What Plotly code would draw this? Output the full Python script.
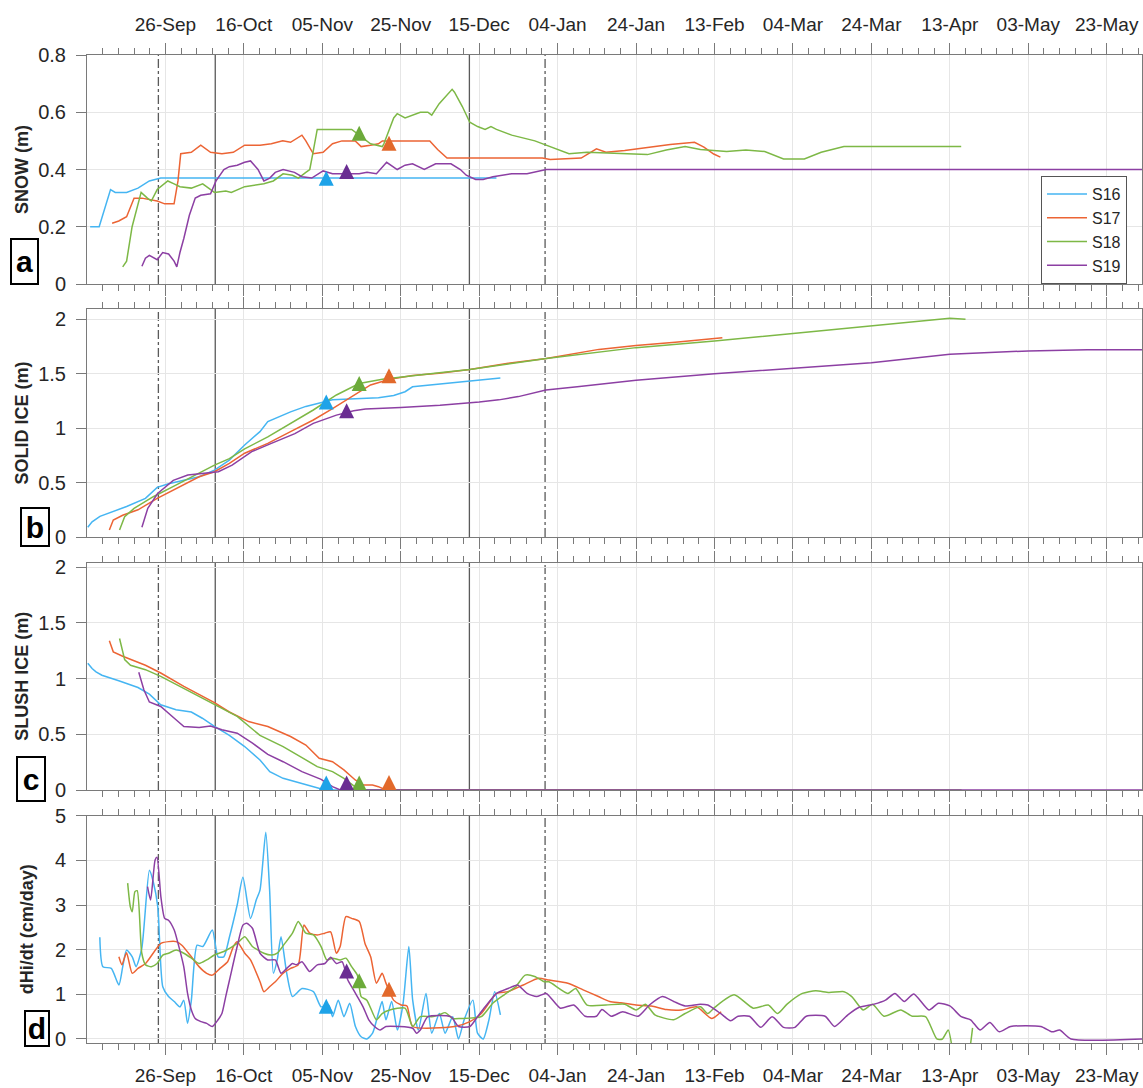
import pandas as pd
import plotly.graph_objects as go

# Day numbers count from the start of the season (1 Sep 2019 = day 0)
SEASON_START = pd.Timestamp("2019-09-01")

stations = ["S16", "S17", "S18", "S19"]
line_colors = ["#45B5F2", "#EC6434", "#7DB846", "#8C3FA3"]
marker_colors = ["#1EA3E8", "#E2692B", "#6CAA3A", "#6A2D92"]

# ---- snow depth (m) ----
snow_s16_day = [5.8, 8.1, 11.0, 12.2, 15.1, 18.0, 20.9, 23.8, 109.4]
snow_s16 = [0.20, 0.20, 0.33, 0.32, 0.32, 0.335, 0.36, 0.37, 0.37]
snow_s17_day = [11.4, 13.1, 15.1, 17.0, 19.0, 20.9, 22.9, 24.8, 27.2, 28.2, 28.9, 31.6, 34.0, 36.5, 39.4, 42.3,
                45.2, 49.1, 52.0, 54.9, 56.9, 59.8, 60.8, 62.7, 65.2, 67.6, 70.0, 73.4, 74.9, 77.3, 79.3, 80.3,
                92.4, 94.4, 96.8, 106.5, 121.1, 123.1, 131.0, 134.9, 137.3, 142.1, 148.9, 153.7, 159.9, 162.3,
                164.8, 166.5]
snow_s17 = [0.212, 0.22, 0.235, 0.30, 0.30, 0.295, 0.29, 0.28, 0.28, 0.36, 0.455, 0.46, 0.485, 0.46, 0.455, 0.46,
            0.485, 0.485, 0.49, 0.50, 0.495, 0.52, 0.50, 0.455, 0.46, 0.49, 0.50, 0.50, 0.48, 0.485, 0.49, 0.50,
            0.50, 0.47, 0.44, 0.44, 0.44, 0.435, 0.44, 0.472, 0.46, 0.466, 0.478, 0.487, 0.495, 0.478,
            0.454, 0.443]
snow_s18_day = [14.1, 15.1, 16.5, 18.8, 20.4, 21.4, 22.9, 25.6, 27.2, 28.7, 31.6, 34.5, 36.0, 37.5, 40.4, 41.8,
                45.2, 50.1, 52.5, 55.0, 57.4, 58.9, 60.8, 61.8, 62.5, 63.7, 72.5, 74.4, 77.3, 80.3, 80.7, 83.2,
                84.1, 86.1, 88.0, 90.0, 91.9, 92.9, 94.8, 96.8, 98.1, 98.7, 100.7, 102.6, 104.6, 106.5, 108.0,
                109.4, 113.3, 119.2, 123.1, 127.9, 132.5, 137.3, 147.9, 152.7, 157.5, 161.4, 168.1, 173.0,
                177.8, 182.6, 187.9, 192.2, 198.0, 227.9]
snow_s18 = [0.06, 0.08, 0.20, 0.32, 0.30, 0.29, 0.33, 0.36, 0.35, 0.34, 0.335, 0.35, 0.335, 0.32, 0.325, 0.32,
            0.34, 0.35, 0.36, 0.385, 0.38, 0.37, 0.39, 0.40, 0.45, 0.54, 0.54, 0.52, 0.49, 0.48, 0.49, 0.58,
            0.595, 0.58, 0.59, 0.60, 0.60, 0.59, 0.63, 0.66, 0.68, 0.67, 0.62, 0.565, 0.55, 0.54, 0.55,
            0.54, 0.52, 0.50, 0.48, 0.455, 0.46, 0.458, 0.452, 0.468, 0.48, 0.47, 0.463, 0.468,
            0.463, 0.437, 0.437, 0.46, 0.48, 0.48]
snow_s19_day = [19.0, 19.9, 20.9, 22.4, 22.9, 24.3, 25.8, 27.2, 27.9, 28.7, 29.7, 31.1, 32.6, 34.0, 36.5, 37.9,
                39.9, 41.3, 43.3, 45.2, 46.7, 48.6, 50.1, 51.6, 53.0, 55.0, 57.9, 59.8, 62.3, 65.2, 67.6, 74.4,
                76.4, 78.8, 81.4, 84.1, 86.1, 88.0, 91.0, 93.9, 97.8, 100.2, 101.7, 104.1, 106.0, 108.5, 113.3,
                117.2, 122.1, 274.0]
snow_s19 = [0.062, 0.09, 0.10, 0.09, 0.085, 0.11, 0.105, 0.08, 0.06, 0.11, 0.16, 0.24, 0.30, 0.31, 0.315, 0.36,
            0.40, 0.41, 0.415, 0.425, 0.43, 0.40, 0.36, 0.37, 0.39, 0.40, 0.39, 0.375, 0.37, 0.395, 0.385, 0.385,
            0.39, 0.385, 0.425, 0.40, 0.415, 0.42, 0.40, 0.42, 0.42, 0.40, 0.38, 0.365, 0.365, 0.375, 0.385,
            0.385, 0.40, 0.40]

# ---- solid ice thickness (m) ----
ice_s16_day = [5.2, 6.3, 8.3, 11.2, 15.1, 19.9, 22.9, 25.8, 29.7, 33.6, 37.5, 41.3, 45.2, 49.1, 51.1, 54.0,
               56.9, 60.8, 64.7, 67.6, 73.4, 79.3, 83.2, 86.1, 88.0, 94.8, 102.6, 105.5, 110.4]
ice_s16 = [0.09, 0.14, 0.19, 0.23, 0.28, 0.355, 0.456, 0.49, 0.52, 0.554, 0.615, 0.707, 0.845, 0.968, 1.06, 1.106,
           1.15, 1.20, 1.234, 1.26, 1.27, 1.28, 1.30, 1.335, 1.38, 1.405, 1.427, 1.44, 1.46]
ice_s17_day = [10.7, 11.7, 14.1, 18.0, 22.9, 27.7, 33.6, 37.5, 41.3, 45.2, 51.1, 56.9, 62.7, 67.6, 73.4, 77.3,
               82.2, 88.0, 94.8, 102.6, 112.4, 122.1, 135.5, 145.0, 155.0, 167.0]
ice_s17 = [0.064, 0.156, 0.20, 0.25, 0.355, 0.447, 0.554, 0.60, 0.677, 0.77, 0.86, 0.968, 1.075, 1.18, 1.314,
           1.397, 1.45, 1.485, 1.504, 1.54, 1.596, 1.64, 1.724, 1.76, 1.79, 1.83]
ice_s18_day = [13.3, 14.6, 17.0, 21.9, 26.8, 33.6, 37.5, 41.3, 45.2, 51.1, 56.9, 62.7, 68.6, 74.4, 80.3, 88.0,
               94.8, 102.6, 112.4, 122.1, 145.0, 165.0, 185.0, 205.0, 218.0, 225.0, 229.0]
ice_s18 = [0.064, 0.187, 0.263, 0.37, 0.46, 0.59, 0.66, 0.72, 0.81, 0.92, 1.044, 1.167, 1.305, 1.41, 1.45, 1.485,
           1.51, 1.54, 1.59, 1.64, 1.74, 1.80, 1.87, 1.94, 1.99, 2.01, 2.0]
ice_s19_day = [19.0, 20.5, 23.0, 27.0, 30.7, 34.6, 38.5, 42.0, 47.0, 52.0, 58.0, 62.7, 68.6, 73.0, 76.0, 85.0,
               95.0, 105.0, 110.0, 115.0, 122.0, 130.0, 145.0, 165.0, 185.0, 205.0, 225.0, 245.0, 260.0, 274.0]
ice_s19 = [0.09, 0.263, 0.40, 0.52, 0.57, 0.585, 0.60, 0.66, 0.784, 0.86, 0.95, 1.044, 1.12, 1.16, 1.175, 1.19,
           1.21, 1.24, 1.26, 1.29, 1.35, 1.38, 1.44, 1.50, 1.55, 1.60, 1.68, 1.71, 1.72, 1.72]

# ---- slush ice thickness (m) ----
slush_s16_day = [5.2, 6.3, 7.3, 8.8, 13.1, 18.0, 20.9, 23.8, 27.7, 31.6, 34.4, 37.5, 41.3, 45.2, 49.1, 51.6,
                 55.0, 60.8, 64.7, 65.7, 110.4]
slush_s16 = [1.138, 1.09, 1.06, 1.03, 0.98, 0.92, 0.86, 0.765, 0.72, 0.70, 0.644, 0.57, 0.49, 0.39, 0.27, 0.165,
             0.105, 0.045, 0.006, 0.0, 0.0]
slush_s17_day = [10.7, 11.7, 14.1, 19.9, 23.8, 29.7, 37.5, 41.3, 46.2, 51.1, 56.9, 60.8, 64.2, 67.6, 70.5, 73.4,
                 75.4, 77.8, 79.3, 81.2, 166.5]
slush_s17 = [1.34, 1.24, 1.20, 1.12, 1.05, 0.93, 0.784, 0.70, 0.614, 0.57, 0.48, 0.404, 0.285, 0.254, 0.18, 0.09,
             0.045, 0.045, 0.03, 0.0, 0.0]
slush_s18_day = [13.3, 14.6, 16.1, 19.9, 23.8, 29.7, 37.5, 43.3, 49.1, 55.0, 60.8, 63.7, 67.6, 70.5, 73.9, 74.9,
                 228.0]
slush_s18 = [1.36, 1.17, 1.12, 1.08, 1.02, 0.91, 0.77, 0.66, 0.49, 0.39, 0.27, 0.21, 0.165, 0.105, 0.015, 0.0, 0.0]
slush_s19_day = [18.2, 19.5, 20.9, 23.8, 27.7, 29.7, 33.6, 36.5, 39.4, 43.3, 47.2, 51.1, 55.0, 59.8, 64.7, 67.6,
                 69.6, 274.0]
slush_s19 = [1.057, 0.90, 0.79, 0.75, 0.63, 0.57, 0.56, 0.575, 0.54, 0.51, 0.42, 0.32, 0.254, 0.165, 0.096, 0.03,
             0.0, 0.0]

# ---- ice growth rate dHi/dt (cm/day) ----
dh_s16_day = [8.27, 9.05, 11.19, 13.13, 14.11, 15.08, 16.54, 17.51, 18.97, 20.91, 21.89, 23.05, 24.32, 25.78,
              27.24, 28.70, 29.67, 30.64, 31.61, 33.07, 34.53, 36.96, 38.42, 39.88, 41.34, 43.29, 44.75, 46.69,
              48.15, 49.12, 50.58, 51.56, 52.53, 53.50, 54.47, 55.93, 57.39, 59.82, 62.74, 64.69, 66.63, 67.61,
              69.07, 70.53, 71.98, 73.44, 74.90, 76.36, 77.82, 79.28, 80.25, 81.23, 82.68, 84.14, 85.60, 87.06,
              88.04, 89.49, 91.44, 92.90, 94.84, 96.30, 98.25, 99.71, 101.17, 103.40, 104.57, 106.03, 107.49,
              108.95, 110.41]
dh_s16 = [2.28, 1.62, 1.58, 1.21, 1.62, 1.99, 1.84, 1.62, 2.03, 3.78, 3.52, 2.96, 1.17, 0.95, 0.84, 0.72, 0.87,
          0.35, 0.87, 2.10, 2.07, 2.44, 1.84, 1.84, 2.29, 3.00, 3.62, 2.70, 3.11, 3.34, 4.63, 3.34, 1.47, 1.77,
          2.29, 1.47, 0.95, 1.13, 1.06, 0.72, 0.76, 0.50, 0.87, 0.50, 0.80, 0.28, 0.05, 0.0, 0.13, 0.57, 0.84,
          0.43, 0.84, 0.20, 0.80, 2.07, 0.87, 0.20, 1.02, 0.13, 0.57, 0.13, 0.50, 0.0, 0.43, 0.87, 0.13, 0.0,
          0.43, 1.06, 0.54]
dh_s17_day = [13.13, 13.91, 15.08, 16.54, 18.00, 19.94, 23.83, 25.78, 27.72, 29.18, 31.61, 33.56, 35.51, 36.96,
              38.91, 40.86, 42.32, 43.29, 45.23, 46.69, 49.12, 50.10, 51.56, 53.02, 54.96, 56.91, 58.85, 60.31,
              61.77, 63.72, 65.66, 67.12, 68.58, 69.55, 71.01, 72.47, 74.42, 75.88, 77.33, 78.79, 80.25, 81.23,
              83.17, 85.12, 86.58, 88.04, 98.74, 102.63, 105.54, 109.44, 112.35, 116.25, 120.14, 122.8, 127.6,
              131.5, 135.4, 138.3, 141.1, 145.0, 148.9, 152.7, 156.6, 160.4, 164.3, 166.7]
dh_s17 = [1.84, 1.66, 1.93, 1.47, 1.58, 1.69, 2.14, 2.18, 2.18, 2.10, 1.84, 1.62, 1.47, 1.43, 1.58, 1.73, 2.07,
          2.18, 1.92, 1.77, 1.28, 1.06, 1.17, 1.28, 1.47, 1.58, 1.66, 2.55, 2.37, 2.33, 2.37, 2.40, 1.92, 2.07,
          2.74, 2.70, 2.63, 2.14, 1.84, 1.25, 1.47, 1.25, 0.87, 0.76, 0.74, 0.28, 0.28, 0.39, 0.57, 1.02, 1.06,
          1.21, 1.36, 1.32, 1.25, 1.10, 0.95, 0.84, 0.81, 0.76, 0.74, 0.66, 0.65, 0.72, 0.46, 0.61]
dh_s18_day = [15.37, 16.05, 16.54, 17.22, 17.80, 18.97, 19.94, 21.40, 22.86, 24.32, 25.78, 27.72, 29.67, 31.61,
              33.56, 35.51, 37.45, 39.88, 41.34, 43.29, 45.23, 47.18, 50.10, 52.04, 53.50, 55.45, 57.39, 58.85,
              59.82, 60.80, 62.74, 64.69, 66.15, 67.61, 69.55, 71.01, 72.47, 73.93, 74.90, 76.36, 78.79, 80.25,
              82.20, 86.09, 88.04, 89.98, 92.90, 94.84, 96.30, 98.25, 100.19, 105.54, 108.46, 111.38, 114.30,
              116.73, 119.16, 121.59, 122.8, 127.6, 129.6, 132.5, 137.3, 142.1, 145.0, 147.4, 149.8, 154.6,
              157.5, 161.4, 163.3, 165.2, 170.0, 174.9, 178.7, 181.1, 183.5, 187.4, 190.8, 194.2, 198.0, 200.0,
              202.9, 205.3, 208.2, 212.5, 215.4, 218.8, 221.7, 223.1, 224.6, 226.2, 227.5, 229.5, 230.8]
dh_s18 = [3.49, 2.96, 2.85, 3.30, 3.32, 1.92, 1.66, 1.62, 1.69, 1.88, 1.92, 1.99, 1.92, 1.81, 1.69, 1.77, 1.88,
          1.96, 2.03, 2.14, 2.29, 2.07, 1.92, 1.88, 1.92, 2.14, 2.37, 2.63, 2.51, 2.37, 2.33, 2.07, 1.77, 1.81,
          1.77, 1.81, 1.62, 1.43, 0.95, 0.87, 0.43, 0.57, 0.65, 0.69, 0.28, 0.50, 0.50, 0.54, 0.59, 0.46, 0.46,
          0.50, 0.80, 0.99, 1.17, 1.43, 1.40, 1.28, 1.28, 1.02, 1.13, 0.76, 0.76, 0.78, 0.65, 0.78, 0.54, 0.43,
          0.57, 0.72, 0.57, 0.72, 0.99, 0.69, 0.76, 0.57, 0.78, 1.02, 1.08, 1.04, 1.06, 0.95, 0.65, 0.78, 0.51,
          0.65, 0.51, 0.50, 0.0, 0.0, 0.20, -0.5, -0.8, -0.5, 0.25]
dh_s19_day = [20.43, 21.21, 22.37, 22.86, 23.83, 24.81, 25.78, 27.24, 28.21, 29.67, 30.64, 31.61, 32.59, 34.05,
              35.51, 36.96, 38.42, 39.40, 40.37, 41.34, 43.29, 44.75, 45.72, 47.18, 49.12, 51.07, 53.02, 54.47,
              55.93, 57.39, 58.37, 59.82, 61.77, 63.72, 65.66, 67.12, 68.58, 70.04, 71.50, 72.47, 73.93, 75.39,
              76.85, 78.31, 79.77, 81.23, 88.04, 89.01, 89.98, 91.93, 97.76, 99.71, 102.63, 104.57, 106.52,
              109.44, 112.35, 114.79, 117.22, 119.65, 122.08, 125.7, 129.1, 132.0, 134.9, 136.3, 138.7, 141.6,
              145.5, 148.4, 151.7, 154.6, 157.5, 161.4, 163.3, 166.7, 169.1, 171.0, 173.9, 176.8, 179.7, 182.6,
              185.5, 188.4, 193.2, 195.6, 199.0, 201.9, 205.7, 208.6, 211.0, 213.4, 215.8, 219.7, 222.1, 225.0,
              227.9, 230.3, 232.7, 235.2, 237.6, 240.5, 248.2, 251.1, 253.0, 255.9, 274.0]
dh_s19 = [3.41, 3.11, 4.01, 4.07, 3.19, 2.70, 2.66, 2.44, 2.14, 1.62, 1.02, 0.65, 0.46, 0.39, 0.35, 0.28, 0.43,
          0.57, 0.95, 1.32, 2.07, 2.55, 2.59, 2.48, 1.92, 1.77, 1.77, 1.47, 1.58, 1.69, 1.66, 1.73, 1.51, 1.66,
          1.69, 1.83, 1.69, 1.73, 1.32, 1.17, 0.95, 0.72, 0.43, 0.28, 0.20, 0.28, 0.24, 0.13, 0.20, 0.50, 0.50,
          0.28, 0.28, 0.50, 0.72, 1.02, 1.13, 1.21, 1.02, 0.95, 1.02, 0.69, 0.76, 0.51, 0.51, 0.66, 0.51, 0.61,
          0.51, 0.76, 0.95, 0.84, 0.74, 0.78, 0.76, 0.56, 0.41, 0.51, 0.51, 0.26, 0.50, 0.26, 0.26, 0.51, 0.51,
          0.28, 0.54, 0.71, 0.78, 0.87, 1.02, 0.84, 1.01, 0.65, 0.80, 0.74, 0.50, 0.43, 0.20, 0.37, 0.16, 0.28,
          0.28, 0.16, 0.20, 0.0, 0.0]

# ---- triangles: day each station's slush layer is fully consolidated ----
event_day = [66.0, 82.0, 74.4, 71.2]          # S16, S17, S18, S19
event_snow = [0.396, 0.518, 0.553, 0.419]
event_ice = [1.31, 1.55, 1.48, 1.23]
event_slush = [0.13, 0.135, 0.13, 0.13]
event_dh = [0.90, 1.28, 1.47, 1.69]

# ---- reference dates drawn as vertical lines ----
ref_days = [23.2, 37.7, 102.5, 121.8]
ref_dash = ["dashdot", "solid", "solid", "dashdot"]

# ---- date axis: labelled every 20 days from 26 Sep, minor marks every 4 days ----
x_range = ["2019-09-06", "2020-06-01"]
major_ticks = pd.date_range("2019-09-26", "2020-05-23", freq="20D")
minor_ticks = pd.date_range("2019-09-10", "2020-06-01", freq="4D")

panels = [
    ("SNOW (m)", [snow_s16_day, snow_s17_day, snow_s18_day, snow_s19_day],
     [snow_s16, snow_s17, snow_s18, snow_s19], event_snow, [0, 0.8], 0.2, 4),
    ("SOLID ICE (m)", [ice_s16_day, ice_s17_day, ice_s18_day, ice_s19_day],
     [ice_s16, ice_s17, ice_s18, ice_s19], event_ice, [0, 2.095], 0.5, 4),
    ("SLUSH ICE (m)", [slush_s16_day, slush_s17_day, slush_s18_day, slush_s19_day],
     [slush_s16, slush_s17, slush_s18, slush_s19], event_slush, [0, 2.04], 0.5, 4),
    ("dHi/dt (cm/day)", [dh_s16_day, dh_s17_day, dh_s18_day, dh_s19_day],
     [dh_s16, dh_s17, dh_s18, dh_s19], event_dh, [-0.09, 5], 1, 16),
]
panel_letters = ["a", "b", "c", "d"]

# pixel layout of the figure
W, H = 1143, 1088
ML, MR, MT, MB = 87, 1, 55, 45
PW, PH = W - ML - MR, H - MT - MB
panel_px = [(55, 284), (309, 537), (562.7, 790), (815.7, 1043)]   # top, bottom of each plot area
letter_px = [(10, 238, 39, 285), (20, 507, 50, 547), (16, 756, 46, 802), (24, 1010, 50, 1047)]


def ypaper(py):
    return (H - MB - py) / PH


def xpaper(px):
    return (px - ML) / PW


def to_dates(days):
    return SEASON_START + pd.to_timedelta(pd.Series(days, dtype=float), unit="D")


FONT = "Liberation Sans, Arial, Helvetica, sans-serif"
AX = "#7a7a7a"
TXT = "#262626"
GRID = "#e6e6e6"

fig = go.Figure()
for p, (title, days, vals, ev, yr, dt, standoff) in enumerate(panels):
    xa = "x" if p == 0 else f"x{p + 1}"
    ya = "y" if p == 0 else f"y{p + 1}"
    smooth = p == 3
    for k, name in enumerate(stations):
        fig.add_trace(go.Scatter(
            x=to_dates(days[k]), y=vals[k], mode="lines", name=name,
            line=dict(color=line_colors[k], width=1.5,
                      shape="spline" if smooth else "linear", smoothing=0.6 if smooth else None),
            xaxis=xa, yaxis=ya, showlegend=(p == 0), legendgroup=name))
    for k, name in enumerate(stations):
        fig.add_trace(go.Scatter(
            x=to_dates([event_day[k]]), y=[ev[k]], mode="markers",
            marker=dict(symbol="arrow-up", size=15, color=marker_colors[k], line=dict(width=0)),
            xaxis=xa, yaxis=ya, showlegend=False, hoverinfo="skip"))

    top, bot = panel_px[p]
    xkey = "xaxis" if p == 0 else f"xaxis{p + 1}"
    ykey = "yaxis" if p == 0 else f"yaxis{p + 1}"
    fig.layout[xkey] = dict(
        type="date", range=x_range, anchor=ya,
        matches=None if p == 0 else "x",
        side="top" if p == 0 else "bottom",
        showticklabels=(p in (0, 3)),
        tickmode="array", tickvals=list(major_ticks), tickformat="%d-%b",
        ticks="outside", ticklen=11, tickwidth=1, tickcolor=AX, ticklabelstandoff=4,
        minor=dict(tickmode="array", tickvals=list(minor_ticks), ticks="outside", ticklen=6,
                   tickwidth=1, tickcolor=AX, showgrid=False),
        showline=True, linecolor=AX, linewidth=1, mirror="ticks",
        showgrid=True, gridcolor=GRID, gridwidth=1, zeroline=False,
        tickfont=dict(family=FONT, size=19, color=TXT),
    )
    fig.layout[ykey] = dict(
        domain=[ypaper(bot), ypaper(top)], anchor=xa, range=yr, dtick=dt, tick0=0,
        ticks="outside", ticklen=10, tickwidth=1, tickcolor=AX, ticklabelstandoff=6,
        showline=True, linecolor=AX, linewidth=1, mirror=True,
        showgrid=True, gridcolor=GRID, gridwidth=1, zeroline=False,
        tickfont=dict(family=FONT, size=20, color=TXT),
        title=dict(text=f"<b>{title}</b>", font=dict(family=FONT, size=18, color=TXT), standoff=standoff),
    )

    for d, dash in zip(ref_days, ref_dash):
        fig.add_shape(type="line", xref=xa, yref=f"{ya} domain",
                      x0=to_dates([d])[0], x1=to_dates([d])[0], y0=0, y1=1,
                      line=dict(color="#5a5a5a", width=1.3, dash=dash), layer="below")

    x0, y0, x1, y1 = letter_px[p]
    fig.add_annotation(
        text=f"<b>{panel_letters[p]}</b>", xref="paper", yref="paper",
        x=xpaper((x0 + x1) / 2), y=ypaper((y0 + y1) / 2), xanchor="center", yanchor="middle",
        showarrow=False, font=dict(family=FONT, size=30, color="#000000"),
        bgcolor="#ffffff", bordercolor="#000000", borderwidth=2, borderpad=0,
        width=x1 - x0 - 4, height=y1 - y0 - 4)

fig.update_layout(
    width=W, height=H, margin=dict(l=ML, r=MR, t=MT, b=MB, autoexpand=False),
    paper_bgcolor="#ffffff", plot_bgcolor="#ffffff",
    font=dict(family=FONT, color=TXT),
    legend=dict(x=xpaper(1127), xanchor="right", y=ypaper(284), yanchor="bottom",
                bgcolor="#ffffff", bordercolor="#555555", borderwidth=1, itemwidth=40,
                font=dict(family=FONT, size=16, color=TXT), tracegroupgap=0),
    showlegend=True,
)

fig.write_html("out.html")
